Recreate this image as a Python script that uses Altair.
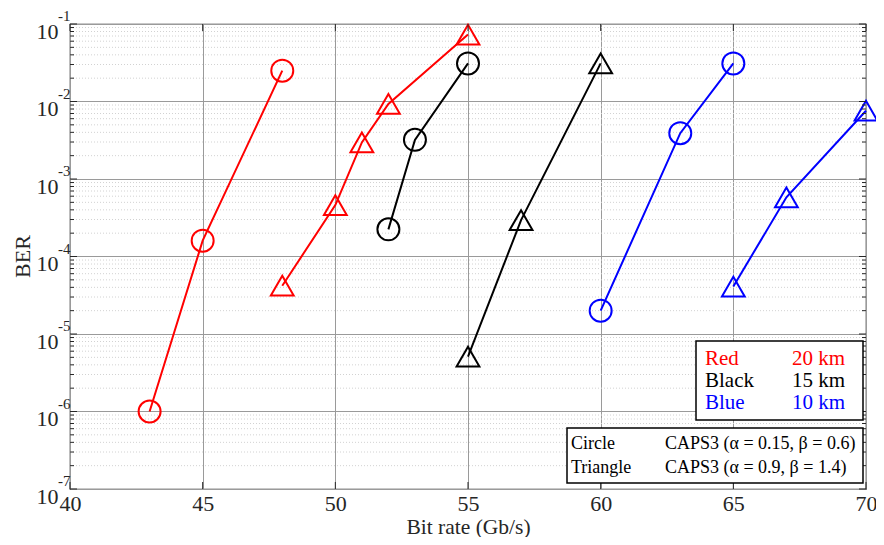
import altair as alt
import pandas as pd

# ---------------- data ----------------
red_circle_x = [43, 45, 48]
red_circle_y = [1.0e-6, 1.6e-4, 2.5e-2]
red_tri_x = [48, 50, 51, 52, 55]
red_tri_y = [4.2e-5, 4.6e-4, 2.97e-3, 9.3e-3, 7.3e-2]
black_circle_x = [52, 53, 55]
black_circle_y = [2.24e-4, 3.2e-3, 3.1e-2]
black_tri_x = [55, 57, 60]
black_tri_y = [5.1e-6, 2.95e-4, 3.1e-2]
blue_circle_x = [60, 63, 65]
blue_circle_y = [2.0e-5, 3.9e-3, 3.1e-2]
blue_tri_x = [65, 67, 70]
blue_tri_y = [4.1e-5, 5.8e-4, 7.6e-3]

x_ticks = [40, 45, 50, 55, 60, 65, 70]
y_decades = [1e-1, 1e-2, 1e-3, 1e-4, 1e-5, 1e-6, 1e-7]
y_exponents = ["-1", "-2", "-3", "-4", "-5", "-6", "-7"]
minor_mult = [2, 3, 4, 5, 6, 7, 8, 9]

legend1_names = ["Red", "Black", "Blue"]
legend1_dist = ["20 km", "15 km", "10 km"]
legend2_names = ["Circle", "Triangle"]
legend2_desc = ["CAPS3 (α = 0.15, β = 0.6)", "CAPS3 (α = 0.9, β = 1.4)"]

RED, BLACK, BLUE = "#ff0000", "#000000", "#0000ff"
FONT = "Liberation Serif"

series = [
    ("red_c", RED, "circle", red_circle_x, red_circle_y),
    ("red_t", RED, "triangle-up", red_tri_x, red_tri_y),
    ("black_c", BLACK, "circle", black_circle_x, black_circle_y),
    ("black_t", BLACK, "triangle-up", black_tri_x, black_tri_y),
    ("blue_c", BLUE, "circle", blue_circle_x, blue_circle_y),
    ("blue_t", BLUE, "triangle-up", blue_tri_x, blue_tri_y),
]
rows = []
for name, col, shp, xs, ys in series:
    for xv, yv in zip(xs, ys):
        rows.append({"series": name, "color": col, "shape": shp, "rate": xv, "ber": yv})
df = pd.DataFrame(rows)

minor_vals = [m * d for d in y_decades[1:] for m in minor_mult]
df_minor = pd.DataFrame({"v": minor_vals})
df_major = pd.DataFrame({"v": y_decades, "e": y_exponents})
df_xt = pd.DataFrame({"x": x_ticks})

W, H = 796, 465

xscale = alt.Scale(domain=[40, 70], nice=False, zero=False)
yscale = alt.Scale(type="log", domain=[1e-7, 1e-1], nice=False)

xaxis = alt.Axis(values=x_ticks, title="Bit rate (Gb/s)", grid=True, gridColor="#9a9a9a",
                 gridWidth=1, ticks=False, domain=False, labelFont=FONT, labelFontSize=22,
                 labelColor="#262626", labelPadding=4, labelFlush=False, labelOverlap=False,
                 titleFont=FONT, titleFontSize=21.5, titleFontWeight="normal", titleColor="#262626",
                 titleY=44, titleBaseline="alphabetic")
yaxis = alt.Axis(values=y_decades, labelExpr="'10'", title="BER", grid=True, gridColor="#9a9a9a",
                 gridWidth=1, ticks=False, domain=False, labelFont=FONT, labelFontSize=22,
                 labelColor="#262626", labelPadding=12, labelOffset=7, labelOverlap=False,
                 labelFlush=False,
                 titleFont=FONT, titleFontSize=22, titleFontWeight="normal", titleColor="#262626",
                 titleX=-48, titleY=232, titleAngle=-90, titleBaseline="middle", titleAlign="center")

minor_grid = alt.Chart(df_minor).mark_rule(color="#d2d2d2", strokeDash=[1, 2], strokeWidth=1).encode(
    y=alt.Y("v:Q", scale=yscale, axis=yaxis))

lines = alt.Chart(df).mark_line(strokeWidth=2).encode(
    x=alt.X("rate:Q", scale=xscale, axis=xaxis),
    y=alt.Y("ber:Q", scale=yscale, axis=yaxis),
    color=alt.Color("color:N", scale=None),
    detail="series:N")

circles = alt.Chart(df[df["shape"] == "circle"]).mark_point(
    shape="circle", filled=False, size=484, strokeWidth=2, opacity=1).encode(
    x=alt.X("rate:Q", scale=xscale), y=alt.Y("ber:Q", scale=yscale),
    stroke=alt.Stroke("color:N", scale=None))

tris = alt.Chart(df[df["shape"] == "triangle-up"]).mark_point(
    shape="triangle-up", filled=False, size=520, strokeWidth=2, opacity=1).encode(
    x=alt.X("rate:Q", scale=xscale), y=alt.Y("ber:Q", scale=yscale),
    stroke=alt.Stroke("color:N", scale=None))

TK = "#262626"
yt_major_l = alt.Chart(df_major).mark_rule(color=TK).encode(
    y=alt.Y("v:Q", scale=yscale), x=alt.value(0), x2=alt.value(7))
yt_major_r = alt.Chart(df_major).mark_rule(color=TK).encode(
    y=alt.Y("v:Q", scale=yscale), x=alt.value(W - 7), x2=alt.value(W))
yt_minor_l = alt.Chart(df_minor).mark_rule(color=TK).encode(
    y=alt.Y("v:Q", scale=yscale), x=alt.value(0), x2=alt.value(4))
yt_minor_r = alt.Chart(df_minor).mark_rule(color=TK).encode(
    y=alt.Y("v:Q", scale=yscale), x=alt.value(W - 4), x2=alt.value(W))
xt_b = alt.Chart(df_xt).mark_rule(color=TK).encode(
    x=alt.X("x:Q", scale=xscale), y=alt.value(H - 7), y2=alt.value(H))
xt_t = alt.Chart(df_xt).mark_rule(color=TK).encode(
    x=alt.X("x:Q", scale=xscale), y=alt.value(0), y2=alt.value(7))

exps = alt.Chart(df_major).mark_text(align="left", baseline="middle", dy=-8, fontSize=15,
                                     font=FONT, color="#262626").encode(
    y=alt.Y("v:Q", scale=yscale), x=alt.value(-12), text="e:N")

one = pd.DataFrame({"a": [0]})
box1 = alt.Chart(one).mark_rect(fill="white", stroke="black", strokeWidth=1.5).encode(
    x=alt.value(626), x2=alt.value(793), y=alt.value(317), y2=alt.value(396))
box2 = alt.Chart(one).mark_rect(fill="white", stroke="black", strokeWidth=1.5).encode(
    x=alt.value(497), x2=alt.value(793), y=alt.value(404), y2=alt.value(459))

legend_layers = []
row_cols = [RED, BLACK, BLUE]
row_y1 = [335, 357, 379]
for i in range(3):
    legend_layers.append(alt.Chart(one).mark_text(align="left", baseline="middle", fontSize=21,
                                                  font=FONT, color=row_cols[i], text=legend1_names[i]).encode(
        x=alt.value(635), y=alt.value(row_y1[i])))
    legend_layers.append(alt.Chart(one).mark_text(align="left", baseline="middle", fontSize=21,
                                                  font=FONT, color=row_cols[i], text=legend1_dist[i]).encode(
        x=alt.value(722), y=alt.value(row_y1[i])))
row_y2 = [420, 444]
for i in range(2):
    legend_layers.append(alt.Chart(one).mark_text(align="left", baseline="middle", fontSize=18,
                                                  font=FONT, color="black", text=legend2_names[i]).encode(
        x=alt.value(501), y=alt.value(row_y2[i])))
    legend_layers.append(alt.Chart(one).mark_text(align="left", baseline="middle", fontSize=18,
                                                  font=FONT, color="black", text=legend2_desc[i]).encode(
        x=alt.value(595), y=alt.value(row_y2[i])))

chart = alt.layer(
    minor_grid, lines, circles, tris,
    yt_major_l, yt_major_r, yt_minor_l, yt_minor_r, xt_b, xt_t,
    exps, box1, box2, *legend_layers
).properties(
    width=W, height=H,
    autosize=alt.AutoSizeParams(type="none"),
    padding={"left": 62, "top": 16, "right": 10, "bottom": 48},
    background="white",
).configure_view(stroke="#262626", strokeWidth=1.2)

chart.save("out.html", embed_options={"renderer": "svg", "actions": False})
